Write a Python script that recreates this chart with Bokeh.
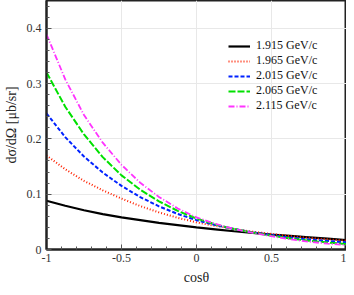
from bokeh.plotting import figure
from bokeh.models import FixedTicker, Range1d, Legend, LegendItem
from bokeh.embed import file_html
from bokeh.resources import INLINE

cos_theta = [-1, -0.875, -0.75, -0.625, -0.5, -0.375, -0.25, -0.125, 0,
             0.125, 0.25, 0.375, 0.5, 0.625, 0.75, 0.875, 1]
p1915 = [0.088, 0.079, 0.071, 0.064, 0.058, 0.053, 0.048, 0.044, 0.040,
         0.0365, 0.033, 0.030, 0.027, 0.0245, 0.022, 0.0195, 0.017]
p1965 = [0.170, 0.145, 0.124, 0.107, 0.092, 0.0785, 0.067, 0.0573, 0.049,
         0.0426, 0.037, 0.0322, 0.028, 0.0243, 0.021, 0.0183, 0.016]
p2015 = [0.246, 0.203, 0.168, 0.139, 0.115, 0.0947, 0.078, 0.0643, 0.053,
         0.0443, 0.037, 0.031, 0.026, 0.0216, 0.018, 0.0153, 0.013]
p2065 = [0.320, 0.258, 0.208, 0.167, 0.134, 0.108, 0.087, 0.0698, 0.056,
         0.0454, 0.037, 0.0305, 0.025, 0.020, 0.016, 0.0126, 0.010]
p2115 = [0.389, 0.3075, 0.243, 0.193, 0.153, 0.1206, 0.095, 0.0742, 0.058,
         0.0465, 0.037, 0.030, 0.024, 0.0183, 0.014, 0.0106, 0.008]
series_labels = ["1.915 GeV/c", "1.965 GeV/c", "2.015 GeV/c", "2.065 GeV/c", "2.115 GeV/c"]
x_ticks = [-1, -0.5, 0, 0.5, 1]
x_tick_labels = ["-1", "-0.5", "0", "0.5", "1"]
y_ticks = [0, 0.1, 0.2, 0.3, 0.4]
y_tick_labels = ["0", "0.1", "0.2", "0.3", "0.4"]

FONT = "Liberation Serif"

p = figure(width=346, height=287, output_backend="svg", toolbar_location=None,
           x_range=Range1d(-1, 1), y_range=Range1d(0, 0.45),
           min_border_left=41, min_border_right=0, min_border_top=0, min_border_bottom=38)
p.outline_line_color = "#222222"
p.outline_line_width = 2
p.background_fill_color = "white"

styles = [
    dict(color="black", line_width=2.2, line_dash="solid"),
    dict(color="#ff2200", line_width=2.0, line_dash="1 2"),
    dict(color="#0022ff", line_width=2.0, line_dash="4 2"),
    dict(color="#00e000", line_width=2.0, line_dash="7 2"),
    dict(color="#ff33ff", line_width=1.8, line_dash="6 2 1 2"),
]
items = []
for ys, lab, st in zip([p1915, p1965, p2015, p2065, p2115], series_labels, styles):
    r = p.line(cos_theta, ys, line_color=st["color"], line_width=st["line_width"],
               line_dash=st["line_dash"])
    items.append(LegendItem(label=lab, renderers=[r]))

legend = Legend(items=items, location=(182, 136), padding=0, margin=0,
                border_line_color=None, background_fill_alpha=0,
                glyph_width=22, glyph_height=12, label_height=12, spacing=0,
                label_standoff=6, label_text_font=FONT, label_text_font_size="12px",
                label_text_color="#111111")
p.add_layout(legend, "center")

for ax, ticks, labels in [(p.xaxis[0], x_ticks, x_tick_labels), (p.yaxis[0], y_ticks, y_tick_labels)]:
    ax.major_label_overrides = {t: l for t, l in zip(ticks, labels)}
    ax.major_tick_in = 5
    ax.major_tick_out = 0
    ax.minor_tick_in = 3
    ax.minor_tick_out = 0
    ax.major_label_text_font = FONT
    ax.major_label_text_font_size = "12px"
    ax.major_label_text_color = "#333333"
    ax.axis_line_color = "#222222"
    ax.axis_line_width = 2
    ax.major_tick_line_color = "#555555"
    ax.minor_tick_line_color = "#555555"
    ax.axis_label_text_font = FONT
    ax.axis_label_text_font_style = "normal"
    ax.axis_label_text_font_size = "14px"
    ax.axis_label_text_color = "#222222"

p.xaxis[0].ticker = FixedTicker(ticks=x_ticks, minor_ticks=[i / 10 for i in range(-10, 11)])
p.yaxis[0].ticker = FixedTicker(ticks=y_ticks, minor_ticks=[i / 50 for i in range(0, 23)])
p.xaxis[0].axis_label = "cosθ"
p.yaxis[0].axis_label = "dσ/dΩ [μb/sr]"
p.xaxis[0].major_label_standoff = 4
p.yaxis[0].major_label_standoff = 5
p.xaxis[0].axis_label_standoff = 5
p.yaxis[0].axis_label_standoff = 5

p.xgrid.ticker = FixedTicker(ticks=x_ticks)
p.ygrid.ticker = FixedTicker(ticks=y_ticks)
p.grid.grid_line_color = "#e8e8e8"
p.grid.grid_line_width = 1

open("out.html", "w").write(file_html(p, INLINE))
